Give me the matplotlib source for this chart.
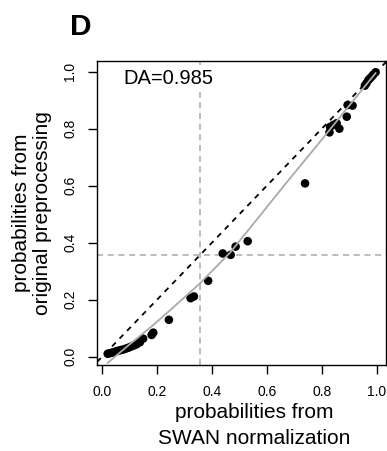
import matplotlib
matplotlib.use("Agg")
import matplotlib.pyplot as plt
import numpy as np

plt.rcParams['font.family'] = ['Liberation Sans', 'DejaVu Sans']

# probabilities per sample: SWAN-normalized vs original preprocessing
swan = [0.020, 0.028, 0.036, 0.044, 0.052, 0.060, 0.068, 0.077, 0.086, 0.095,
        0.105, 0.115, 0.125, 0.137, 0.149, 0.180, 0.186, 0.243, 0.322, 0.334,
        0.386, 0.439, 0.468, 0.486, 0.530, 0.739, 0.828, 0.830, 0.842, 0.854,
        0.864, 0.891, 0.894, 0.912, 0.957, 0.963, 0.970, 0.976, 0.982, 0.988,
        0.996]
orig = [0.010, 0.012, 0.014, 0.016, 0.019, 0.021, 0.023, 0.025, 0.028, 0.031,
        0.035, 0.039, 0.043, 0.050, 0.063, 0.076, 0.084, 0.129, 0.205, 0.211,
        0.266, 0.362, 0.357, 0.386, 0.405, 0.608, 0.787, 0.806, 0.813, 0.819,
        0.800, 0.842, 0.883, 0.881, 0.951, 0.960, 0.971, 0.977, 0.983, 0.990,
        0.998]

# smoothed fit
fit_x = [0.020, 0.100, 0.186, 0.250, 0.357, 0.466, 0.575, 0.669, 0.769, 0.880, 0.996]
fit_y = [-0.022, 0.043, 0.111, 0.165, 0.258, 0.365, 0.495, 0.608, 0.725, 0.857, 0.995]

cutoff = 0.358
da_label = "DA=0.985"
ticks = [0.0, 0.2, 0.4, 0.6, 0.8, 1.0]

fig = plt.figure(figsize=(3.87, 4.51), dpi=100)
ax = fig.add_axes([97 / 387, 1 - 365 / 451, (386.3 - 97) / 387, (365 - 61) / 451])

# R style limits: data range plus 4% on each side
def rlim(v):
    lo, hi = min(v), max(v)
    e = 0.04 * (hi - lo)
    return lo - e, hi + e

ax.set_xlim(*rlim(swan))
ax.set_ylim(*rlim(orig))

ax.axvline(cutoff, color='#AAAAAA', lw=1.1, dashes=(4, 3), zorder=1)
ax.axhline(cutoff, color='#AAAAAA', lw=1.1, dashes=(4, 3), zorder=1)
ax.scatter(swan, orig, s=38, color='black', edgecolors='none', zorder=2)
ax.axline((0, 0), (1, 1), color='black', lw=1.3, dashes=(3, 3), zorder=3)
ax.plot(fit_x, fit_y, color='#AAAAAA', lw=1.3, zorder=4)

ax.text(0.091, 0.924, da_label, transform=ax.transAxes, fontsize=14.5,
        ha='left', va='baseline', zorder=5,
        bbox=dict(boxstyle='square,pad=0.2', fc='white', ec='none'))

ax.set_xticks(ticks)
ax.set_yticks(ticks)
ax.set_xticklabels([f"{t:.1f}" for t in ticks])
ax.set_yticklabels([f"{t:.1f}" for t in ticks], rotation=90, va='center')
ax.tick_params(direction='out', length=6.5, width=1.0, pad=7.7, labelsize=10)
for s in ax.spines.values():
    s.set_linewidth(1.0)

ax.set_xlabel("probabilities from\nSWAN normalization", fontsize=15, linespacing=1.45)
ax.set_ylabel("probabilities from\noriginal preprocessing", fontsize=15, linespacing=1.15)
ax.xaxis.set_label_coords((254 - 97) / 289.3, -(448 - 365) / 304, transform=ax.transAxes)
ax.yaxis.set_label_coords(-(97 - 32) / 289.3, 0.5, transform=ax.transAxes)
ax.xaxis.label.set_va('bottom')
ax.yaxis.label.set_va('center')

fig.text(70 / 387, 1 - 35 / 451, "D", fontsize=21.5, fontweight='bold',
         ha='left', va='baseline')

fig.savefig("out.png", dpi=100)
